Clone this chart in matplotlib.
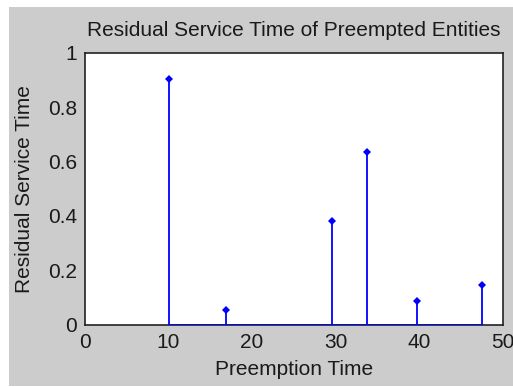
import matplotlib
matplotlib.use("Agg")
import matplotlib.pyplot as plt
from matplotlib.patches import Rectangle

preemption_time = [10.0, 16.9, 29.6, 33.8, 39.8, 47.6]
residual_service = [0.903, 0.053, 0.383, 0.637, 0.088, 0.147]
x_ticks = [0, 10, 20, 30, 40, 50]
y_ticks = [0, 0.2, 0.4, 0.6, 0.8, 1]
y_tick_labels = ["0", "0.2", "0.4", "0.6", "0.8", "1"]

plt.rcParams['font.family'] = ['Liberation Sans', 'DejaVu Sans']

W, H = 513, 387
fig = plt.figure(figsize=(W/100, H/100), dpi=100, facecolor='white')
fig.patches.append(Rectangle((9/W, 1/H), (W-9)/W, (380-1)/H, transform=fig.transFigure,
                             facecolor='#cccccc', edgecolor='none', zorder=-10))

ax = fig.add_axes([85/W, (H-324.5)/H, (502.5-85)/W, (324.5-53)/H])
ax.set_zorder(1)
ax.set_facecolor('white')

blue = '#0000ff'
ax.vlines(preemption_time, 0, residual_service, color=blue, lw=1.3, zorder=3)
ax.plot(preemption_time, residual_service, 'D', color=blue, ms=4.3, mew=0, zorder=4)
ax.plot([preemption_time[0], preemption_time[-1]], [0, 0], color=blue, lw=1.3, zorder=3)

fs = 15
tc = '#1a1a1a'
ax.set_xlim(0, 50)
ax.set_ylim(0, 1)
ax.set_xticks(x_ticks)
ax.set_yticks(y_ticks)
ax.set_yticklabels(y_tick_labels)
ax.tick_params(length=0, labelsize=fs, colors=tc)
ax.tick_params(axis='y', pad=5.8)
ax.tick_params(axis='x', pad=6)
for s in ax.spines.values():
    s.set_color('#222222')
    s.set_linewidth(1.2)

ax.set_title('Residual Service Time of Preempted Entities', fontsize=fs, color=tc, pad=12)
ax.set_xlabel('Preemption Time', fontsize=fs, color=tc, labelpad=6)
ax.set_ylabel('Residual Service Time', fontsize=fs, color=tc, labelpad=10)

fig.savefig('out.png', dpi=100, facecolor='white')
